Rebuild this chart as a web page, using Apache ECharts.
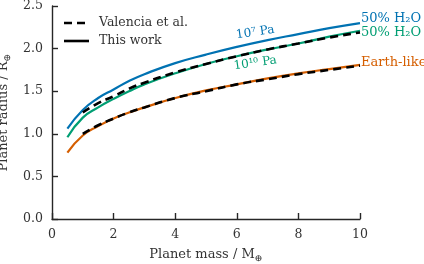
<!DOCTYPE html>
<html><head><meta charset="utf-8">
<script src="https://cdn.jsdelivr.net/npm/echarts@6/dist/echarts.min.js"></script>
<style>html,body{margin:0;padding:0;background:#fff}#c{width:424px;height:264px}</style>
</head><body><div id="c"></div>
<script>
// Planet mass (Earth masses)
const massThis = [0.5, 1, 1.5, 2, 2.5, 3, 4, 5, 6, 7, 8, 9, 10];
const massValencia = [1, 1.5, 2, 2.5, 3, 4, 5, 6, 7, 8, 9, 10];
// This work
const water7 = [1.06, 1.28, 1.42, 1.52, 1.62, 1.70, 1.83, 1.93, 2.02, 2.10, 2.17, 2.24, 2.30];
const water10 = [0.96, 1.19, 1.31, 1.41, 1.50, 1.58, 1.71, 1.82, 1.91, 1.99, 2.06, 2.14, 2.21];
const earthThis = [0.78, 0.98, 1.09, 1.18, 1.25, 1.31, 1.42, 1.51, 1.58, 1.65, 1.71, 1.76, 1.81];
// Valencia et al.
const waterValencia = [1.25, 1.36, 1.44, 1.53, 1.60, 1.72, 1.82, 1.91, 1.99, 2.06, 2.13, 2.19];
const earthValencia = [1.00, 1.10, 1.18, 1.25, 1.31, 1.42, 1.50, 1.58, 1.64, 1.70, 1.75, 1.80];
// Legend entries and tick settings
const legendNames = ['Valencia et al.', 'This work'];
const xTicks = {min: 0, max: 10, interval: 2};
const yTicks = {min: 0, max: 2.5, interval: 0.5};

const FONT = 'DejaVu Serif';
const BLUE = '#0072B2', GREEN = '#009E73', ORANGE = '#D55E00';
const AX = '#262626', TXT = '#333';
const pairs = (xs, ys) => xs.map((x, i) => [x, ys[i]]);

const chart = echarts.init(document.getElementById('c'), null, {renderer: 'canvas'});
function colored(data, color, label, dy) {
  return {
    type: 'line', data: data, symbol: 'none', smooth: true, z: 2,
    lineStyle: {color: color, width: 2.2}, itemStyle: {color: color},
    endLabel: {show: true, formatter: label, color: color, fontFamily: FONT, fontSize: 13, distance: 1, offset: [0, dy]}
  };
}
function valencia(data) {
  return {
    type: 'line', data: data, symbol: 'none', smooth: true, z: 3,
    lineStyle: {color: '#000', width: 2.6, type: [8, 5]}, itemStyle: {color: '#000'}
  };
}
const axisCommon = {
  axisLine: {show: true, lineStyle: {color: AX, width: 1.4}},
  axisTick: {show: true, inside: true, length: 6, lineStyle: {color: AX, width: 1.4}},
  splitLine: {show: false},
  axisLabel: {color: TXT, fontFamily: FONT, fontSize: 12.5},
  nameTextStyle: {color: TXT, fontFamily: FONT, fontSize: 13,
    rich: {sub: {fontFamily: FONT, fontSize: 9.5, color: TXT, padding: [8, 0, 0, 0]}}}
};
chart.setOption({
  animation: false,
  grid: {left: 52, right: 64, top: 6, bottom: 45, containLabel: false, outerBoundsMode: 'none'},
  xAxis: Object.assign({}, axisCommon, {
    type: 'value', min: xTicks.min, max: xTicks.max, interval: xTicks.interval,
    name: 'Planet mass / M{sub|⊕}', nameLocation: 'middle', nameGap: 27,
    axisLabel: Object.assign({}, axisCommon.axisLabel, {margin: 9})
  }),
  yAxis: Object.assign({}, axisCommon, {
    type: 'value', min: yTicks.min, max: yTicks.max, interval: yTicks.interval,
    name: 'Planet radius / R{sub|⊕}', nameLocation: 'middle', nameGap: 31,
    axisLabel: Object.assign({}, axisCommon.axisLabel, {margin: 9, formatter: v => v.toFixed(1)})
  }),
  series: [
    colored(pairs(massThis, water7), BLUE, '50% H₂O', -4),
    colored(pairs(massThis, water10), GREEN, '50% H₂O', 2),
    colored(pairs(massThis, earthThis), ORANGE, 'Earth-like', -2),
    valencia(pairs(massValencia, waterValencia)),
    valencia(pairs(massValencia, earthValencia))
  ]
});
const p7 = chart.convertToPixel({gridIndex: 0}, [6.6, 2.19]);
const p10 = chart.convertToPixel({gridIndex: 0}, [6.6, 1.83]);
const legendFont = '12.5px "DejaVu Serif"';
chart.setOption({
  graphic: [
    {type: 'text', x: p7[0], y: p7[1], rotation: 8 * Math.PI / 180,
      style: {text: '10⁷ Pa', fill: BLUE, font: '12px "DejaVu Serif"', align: 'center', verticalAlign: 'middle'}},
    {type: 'text', x: p10[0], y: p10[1], rotation: 8 * Math.PI / 180,
      style: {text: '10¹⁰ Pa', fill: GREEN, font: '12px "DejaVu Serif"', align: 'center', verticalAlign: 'middle'}},
    {type: 'line', shape: {x1: 64, y1: 23, x2: 89, y2: 23}, style: {stroke: '#000', lineWidth: 2.6, lineDash: [8, 5]}},
    {type: 'text', x: 99, y: 23, style: {text: legendNames[0], fill: TXT, font: legendFont, verticalAlign: 'middle'}},
    {type: 'line', shape: {x1: 64, y1: 41, x2: 89, y2: 41}, style: {stroke: '#000', lineWidth: 2.6}},
    {type: 'text', x: 99, y: 41, style: {text: legendNames[1], fill: TXT, font: legendFont, verticalAlign: 'middle'}}
  ]
});
</script></body></html>
